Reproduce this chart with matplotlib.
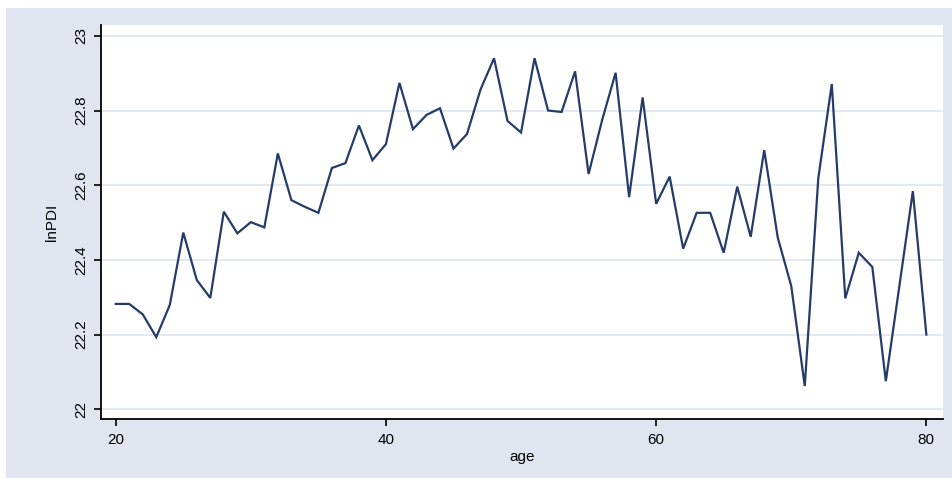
import numpy as np
import matplotlib
matplotlib.use("Agg")
import matplotlib.pyplot as plt
from matplotlib.patches import Rectangle

# lnPDI by age
age = np.arange(20, 81)
lnpdi = [22.282, 22.282, 22.254, 22.193, 22.279, 22.473, 22.346, 22.298, 22.529, 22.471,
         22.501, 22.487, 22.685, 22.560, 22.542, 22.526, 22.646, 22.659, 22.760, 22.667,
         22.710, 22.874, 22.750, 22.788, 22.806, 22.698, 22.737, 22.856, 22.940, 22.772,
         22.741, 22.940, 22.800, 22.796, 22.905, 22.630, 22.774, 22.901, 22.568, 22.835,
         22.550, 22.623, 22.430, 22.526, 22.526, 22.419, 22.596, 22.462, 22.694, 22.460,
         22.330, 22.062, 22.618, 22.871, 22.297, 22.419, 22.381, 22.075, 22.329, 22.584,
         22.200]

xticks = [20, 40, 60, 80]
yticks = [22, 22.2, 22.4, 22.6, 22.8, 23]
ytick_labels = ["22", "22.2", "22.4", "22.6", "22.8", "23"]

bg = "#e1e5ef"
grid_col = "#dfe4ef"
line_col = "#253c6a"

plt.rcParams['font.family'] = ['Liberation Sans', 'DejaVu Sans']

fig = plt.figure(figsize=(9.52, 4.78), dpi=100)
fig.patch.set_facecolor(bg)
# thin white strips at the top and left edge of the picture
fig.patches.append(Rectangle((0, 1 - 8 / 478), 1, 8 / 478, transform=fig.transFigure,
                             facecolor="white", edgecolor="none", zorder=0))
fig.patches.append(Rectangle((0, 0), 6 / 952, 1, transform=fig.transFigure,
                             facecolor="white", edgecolor="none", zorder=0))

ax = fig.add_axes([101 / 952, 1 - 419.3 / 478, (942.7 - 101) / 952, (419.3 - 25) / 478])
ax.set_facecolor("white")
ax.plot(age, lnpdi, color=line_col, lw=1.6, solid_joinstyle="miter", zorder=3)

ax.set_xlim(18.91, 81.21)
ax.set_ylim(21.973, 23.029)
ax.set_xticks(xticks)
ax.set_yticks(yticks)
ax.set_yticklabels(ytick_labels, rotation=90, va="center")
ax.grid(axis="y", color=grid_col, lw=1.2, zorder=0)
ax.grid(axis="x", visible=False)

for s in ["top", "right"]:
    ax.spines[s].set_visible(False)
for s in ["left", "bottom"]:
    ax.spines[s].set_color("black")
    ax.spines[s].set_linewidth(1.3)

ax.tick_params(axis="both", direction="out", length=5, width=1.2, color="black",
               labelsize=11, labelcolor="black")
ax.tick_params(axis="y", pad=4)
ax.tick_params(axis="x", pad=5)

ax.set_xlabel("age", fontsize=11, labelpad=2)
ax.set_ylabel("lnPDI", fontsize=11, labelpad=11)

fig.savefig("out.png", dpi=100, facecolor=fig.get_facecolor())
